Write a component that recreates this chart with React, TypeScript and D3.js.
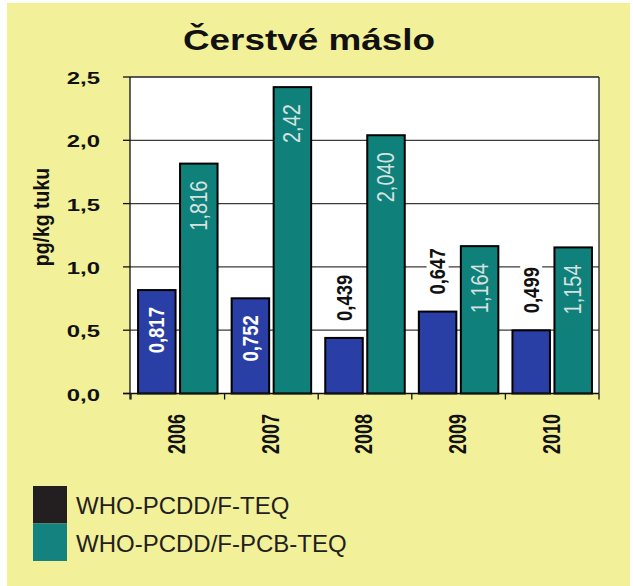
import React from 'react';
import * as d3 from 'd3';

const years = ['2006', '2007', '2008', '2009', '2010'];
const pcddValues = [0.817, 0.752, 0.439, 0.647, 0.499];
const pcddLabels = ['0,817', '0,752', '0,439', '0,647', '0,499'];
const pcbValues = [1.816, 2.42, 2.04, 1.164, 1.154];
const pcbLabels = ['1,816', '2,42', '2,040', '1,164', '1,154'];
const yTicks = [0, 0.5, 1, 1.5, 2, 2.5];
const yTickLabels = ['0,0', '0,5', '1,0', '1,5', '2,0', '2,5'];
const seriesNames = ['WHO-PCDD/F-TEQ', 'WHO-PCDD/F-PCB-TEQ'];
const seriesKeys = ['pcdd', 'pcb'];
const titleText = 'Čerstvé máslo';
const yAxisTitle = 'pg/kg tuku';

const W = 633;
const H = 586;
const plot = { left: 130, right: 599, top: 77, bottom: 393.5 };
const BLUE = '#2a3fa6';
const TEAL = '#10807a';
const YELLOW = '#f2f098';
const FONT = 'Liberation Sans, Arial, Helvetica, sans-serif';
const NARROW = '"Liberation Sans Narrow", "Arial Narrow", Liberation Sans, Arial, sans-serif';

export default function App() {
  const x0 = d3.scaleBand<string>().domain(years).range([plot.left + 1, plot.right]).paddingInner(0).paddingOuter(0);
  const x1 = d3.scaleBand<string>().domain(seriesKeys).range([0, x0.bandwidth()]).paddingInner(0.107).paddingOuter(0.168);
  const y = d3.scaleLinear().domain([0, 2.5]).range([plot.bottom, plot.top]);

  const k = 1.2; // horizontal stretch of the original embedded chart

  return (
    <div style={{ position: 'absolute', left: 0, top: 0 }}>
      <svg width={W} height={H} style={{ display: 'block' }}>
        <rect x={0} y={0} width={W} height={H} fill="#ffffff" />
        <rect x={7} y={3} width={623} height={583} fill={YELLOW} />

        {/* title */}
        <text
          transform={`translate(309,50) scale(1.25,1)`}
          textAnchor="middle"
          fontFamily={FONT}
          fontWeight="bold"
          fontSize={29.5}
          fill="#111"
        >
          {titleText}
        </text>

        {/* plot background */}
        <rect x={plot.left} y={plot.top} width={plot.right - plot.left} height={plot.bottom - plot.top} fill="#ffffff" />

        {/* gridlines */}
        {yTicks.filter((t) => t > 0 && t < 2.5).map((t) => (
          <line key={t} x1={plot.left} x2={plot.right} y1={y(t)} y2={y(t)} stroke="#3f3a36" strokeWidth={1.3} />
        ))}

        {/* frame */}
        <line x1={plot.left} x2={plot.right} y1={plot.top} y2={plot.top} stroke="#222" strokeWidth={1.3} />
        <line x1={plot.right} x2={plot.right} y1={plot.top} y2={plot.bottom} stroke="#222" strokeWidth={1.3} />

        {/* bars */}
        {years.map((yr, i) => {
          const bx = x0(yr)!;
          const bw = x1.bandwidth();
          const xa = bx + x1('pcdd')!;
          const xb = bx + x1('pcb')!;
          return (
            <g key={yr}>
              <rect x={xa} y={y(pcddValues[i])} width={bw} height={plot.bottom - y(pcddValues[i])} fill={BLUE} stroke="#000" strokeWidth={2} />
              <rect x={xb} y={y(pcbValues[i])} width={bw} height={plot.bottom - y(pcbValues[i])} fill={TEAL} stroke="#000" strokeWidth={2} />
            </g>
          );
        })}

        {/* data labels */}
        {years.map((yr, i) => {
          const bx = x0(yr)!;
          const bw = x1.bandwidth();
          const ca = bx + x1('pcdd')! + bw / 2;
          const cb = bx + x1('pcb')! + bw / 2;
          const inside = pcddValues[i] > 0.7;
          const ta = y(pcddValues[i]);
          const tb = y(pcbValues[i]);
          return (
            <g key={'l' + yr}>
              {inside ? (
                <text
                  transform={`translate(${ca},${ta + 17}) scale(${k},1) rotate(-90)`}
                  textAnchor="end"
                  dominantBaseline="central"
                  fontFamily={FONT}
                  fontWeight="bold"
                  fontSize={18.5}
                  fill="#ffffff"
                >
                  {pcddLabels[i]}
                </text>
              ) : (
                <g>
                  <rect x={ca - 11} y={ta - 17 - 50} width={22} height={54} fill="#ffffff" />
                  <text
                    transform={`translate(${ca},${ta - 17}) scale(${k},1) rotate(-90)`}
                    textAnchor="start"
                    dominantBaseline="central"
                    fontFamily={FONT}
                    fontWeight="bold"
                    fontSize={18.5}
                    fill="#111"
                  >
                    {pcddLabels[i]}
                  </text>
                </g>
              )}
              <text
                transform={`translate(${cb},${tb + 17}) scale(1.15,1) rotate(-90)`}
                textAnchor="end"
                dominantBaseline="central"
                fontFamily={NARROW}
                fontSize={20}
                fill="#d5e3e0"
              >
                {pcbLabels[i]}
              </text>
            </g>
          );
        })}

        {/* axes */}
        <line x1={plot.left} x2={plot.left} y1={plot.top} y2={plot.bottom + 6} stroke="#111" strokeWidth={1.3} />
        <line x1={plot.left - 7} x2={plot.right} y1={plot.bottom} y2={plot.bottom} stroke="#111" strokeWidth={1.5} />
        {yTicks.map((t, i) => (
          <g key={'yt' + t}>
            <line x1={plot.left - 7} x2={plot.left} y1={y(t)} y2={y(t)} stroke="#111" strokeWidth={1.3} />
            <text
              transform={`translate(100,${y(t) + 1}) scale(1.45,1)`}
              textAnchor="end"
              dominantBaseline="central"
              fontFamily={FONT}
              fontWeight="bold"
              fontSize={16.5}
              fill="#111"
            >
              {yTickLabels[i]}
            </text>
          </g>
        ))}
        {[...years.map((yr) => x0(yr)!), plot.right].map((xv, i) => (
          <line key={'xt' + i} x1={xv} x2={xv} y1={plot.bottom} y2={plot.bottom + 6} stroke="#111" strokeWidth={1.3} />
        ))}
        {years.map((yr) => (
          <text
            key={'xl' + yr}
            transform={`translate(${x0(yr)! + x0.bandwidth() / 2 - 1},414) scale(1.3,1) rotate(-90)`}
            textAnchor="end"
            dominantBaseline="central"
            fontFamily={FONT}
            fontWeight="bold"
            fontSize={18}
            fill="#111"
          >
            {yr}
          </text>
        ))}

        {/* y axis title */}
        <text
          transform={`translate(41,217) scale(1.15,1) rotate(-90)`}
          textAnchor="middle"
          dominantBaseline="central"
          fontFamily={FONT}
          fontWeight="bold"
          fontSize={19.5}
          fill="#111"
        >
          {yAxisTitle}
        </text>

        {/* legend */}
        {seriesNames.map((name, i) => (
          <g key={name}>
            <rect x={33} y={486 + i * 37.5} width={34} height={37.5} fill={i === 0 ? '#231f20' : '#14837f'} />
            <text x={76} y={514 + i * 37.5} fontFamily={FONT} fontSize={24} fill="#231f20">
              {name}
            </text>
          </g>
        ))}
      </svg>
    </div>
  );
}
